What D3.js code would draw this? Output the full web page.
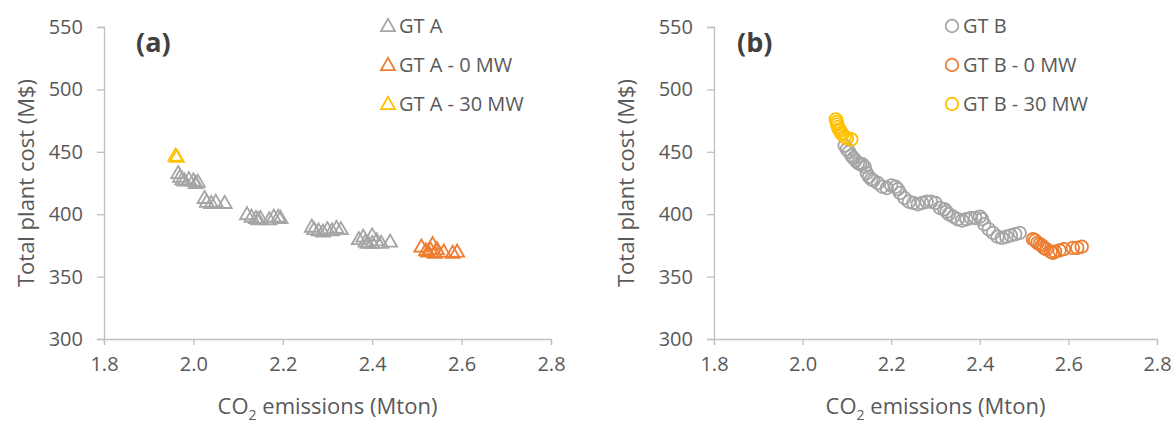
<!DOCTYPE html>
<html lang="en">
<head>
<meta charset="UTF-8">
<script src="https://d3js.org/d3.v7.min.js"></script>
<title>GT cost vs CO2</title>
<style>
    body { margin: 0; background: #fff; }
    svg text { font-family: "Open Sans", "Noto Sans", sans-serif; fill: #595959; }
</style>
</head>
<body>
<svg id="chart" width="1171" height="424"></svg>
<script>
    // panel (a) - GT A
    const xA_grey = [1.966, 1.97, 1.975, 1.98, 1.99, 2.0, 2.01, 2.005, 2.025, 2.03, 2.04, 2.05, 2.07,
        2.12, 2.13, 2.14, 2.145, 2.15, 2.17, 2.18, 2.19, 2.195,
        2.265, 2.27, 2.28, 2.29, 2.30, 2.31, 2.32, 2.33,
        2.37, 2.38, 2.385, 2.39, 2.40, 2.40, 2.41, 2.42, 2.44];
    const yA_grey = [433, 430, 428, 427, 428, 427, 426, 425, 413, 410, 409, 410, 409,
        400, 398, 397, 396, 397, 396, 398, 398, 397,
        390, 388, 387, 386, 388, 387, 389, 388,
        380, 382, 378, 377, 377, 383, 379, 377, 378];
    const xA_0mw = [2.51, 2.52, 2.525, 2.53, 2.535, 2.54, 2.545, 2.56, 2.58, 2.59];
    const yA_0mw = [374, 371, 370, 372, 376, 369, 372, 370, 369, 370];
    const xA_30mw = [1.96, 1.963];
    const yA_30mw = [447, 446];

    // panel (b) - GT B
    const xB_grey = [2.095, 2.10, 2.105, 2.11, 2.115, 2.12, 2.125, 2.13, 2.135, 2.14, 2.145, 2.15, 2.155, 2.16,
        2.17, 2.18, 2.19, 2.20, 2.21, 2.215, 2.22, 2.23, 2.24, 2.25, 2.26, 2.27, 2.28, 2.29, 2.30,
        2.31, 2.32, 2.325, 2.33, 2.34, 2.35, 2.36, 2.37, 2.38, 2.39, 2.40, 2.405, 2.41, 2.42, 2.43,
        2.44, 2.45, 2.46, 2.47, 2.48, 2.49];
    const yB_grey = [455, 452, 450, 447, 445, 443, 441, 440, 440, 438, 433, 430, 428, 427,
        425, 422, 421, 423, 422, 420, 417, 413, 410, 409, 408, 409, 410, 410, 409,
        405, 404, 402, 400, 398, 396, 395, 396, 397, 397, 398, 396, 392, 388, 385,
        382, 381, 382, 383, 384, 385];
    const xB_0mw = [2.52, 2.525, 2.53, 2.535, 2.54, 2.545, 2.55, 2.56, 2.565, 2.57, 2.58, 2.59, 2.61, 2.62, 2.63];
    const yB_0mw = [380, 379, 377, 376, 375, 373, 372, 370, 369, 370, 371, 372, 373, 373, 374];
    const xB_30mw = [2.075, 2.077, 2.078, 2.08, 2.082, 2.085, 2.087, 2.09, 2.095, 2.10, 2.11];
    const yB_30mw = [476, 474, 472, 470, 468, 467, 465, 464, 462, 461, 460];

    const xTicks = [1.8, 2.0, 2.2, 2.4, 2.6, 2.8];
    const yTicks = [300, 350, 400, 450, 500, 550];

    const grey = "#A5A5A5", orange = "#ED7D31", yellow = "#FFC000";

    const svg = d3.select("#chart");

    const panels = [
        {
            left: 104, right: 551, label: "(a)", labelX: 136, titleX: 34,
            legendX: 388, symbol: "triangle",
            series: [
                { name: "GT A", xs: xA_grey, ys: yA_grey, color: grey },
                { name: "GT A - 0 MW", xs: xA_0mw, ys: yA_0mw, color: orange },
                { name: "GT A - 30 MW", xs: xA_30mw, ys: yA_30mw, color: yellow }
            ]
        },
        {
            left: 714, right: 1157, label: "(b)", labelX: 737, titleX: 634,
            legendX: 952, symbol: "circle",
            series: [
                { name: "GT B", xs: xB_grey, ys: yB_grey, color: grey },
                { name: "GT B - 0 MW", xs: xB_0mw, ys: yB_0mw, color: orange },
                { name: "GT B - 30 MW", xs: xB_30mw, ys: yB_30mw, color: yellow }
            ]
        }
    ];

    const plotTop = 27, plotBottom = 339;
    const triangle = d3.symbol().type(d3.symbolTriangle).size(85);

    function drawMarker(g, kind, x, y, color) {
        if (kind === "triangle") {
            g.append("path")
                .attr("d", triangle())
                .attr("transform", `translate(${x},${y + 1})`)
                .attr("fill", "none")
                .attr("stroke", color)
                .attr("stroke-width", 1.8);
        } else {
            g.append("circle")
                .attr("cx", x).attr("cy", y).attr("r", 6.3)
                .attr("fill", "none")
                .attr("stroke", color)
                .attr("stroke-width", 1.8);
        }
    }

    panels.forEach(p => {
        const x = d3.scaleLinear().domain([1.8, 2.8]).range([p.left, p.right]);
        const y = d3.scaleLinear().domain([300, 550]).range([plotBottom, plotTop]);

        const xAxis = svg.append("g")
            .attr("transform", `translate(0,${plotBottom})`)
            .call(d3.axisBottom(x).tickValues(xTicks).tickFormat(d3.format(".1f")).tickSize(6).tickPadding(12));
        const yAxis = svg.append("g")
            .attr("transform", `translate(${p.left},0)`)
            .call(d3.axisLeft(y).tickValues(yTicks).tickSize(7).tickPadding(14));

        [xAxis, yAxis].forEach(a => {
            a.select(".domain").attr("stroke", "#BFBFBF").attr("stroke-width", 1.3);
            a.selectAll(".tick line").attr("stroke", "#BFBFBF").attr("stroke-width", 1.3);
            a.selectAll(".tick text").attr("font-size", 20).attr("fill", "#595959")
                .style("font-family", "'Open Sans', sans-serif");
        });

        // axis titles
        const xt = svg.append("text")
            .attr("x", (p.left + p.right) / 2)
            .attr("y", 414)
            .attr("text-anchor", "middle")
            .attr("font-size", 22);
        xt.append("tspan").text("CO");
        xt.append("tspan").attr("font-size", 14).attr("dy", 6).text("2");
        xt.append("tspan").attr("dy", -6).text(" emissions (Mton)");

        svg.append("text")
            .attr("transform", `translate(${p.titleX},${(plotTop + plotBottom) / 2}) rotate(-90)`)
            .attr("text-anchor", "middle")
            .attr("font-size", 22)
            .text("Total plant cost (M$)");

        svg.append("text")
            .attr("x", p.labelX).attr("y", 52)
            .attr("font-size", 27).attr("font-weight", "bold")
            .style("fill", "#404040")
            .text(p.label);

        // data
        p.series.forEach(s => {
            const g = svg.append("g");
            s.xs.forEach((xv, i) => drawMarker(g, p.symbol, x(xv), y(s.ys[i]), s.color));
        });

        // legend
        p.series.forEach((s, i) => {
            const ly = 26 + i * 39;
            const g = svg.append("g");
            drawMarker(g, p.symbol, p.legendX, ly, s.color);
            svg.append("text")
                .attr("x", p.legendX + 11).attr("y", ly + 7)
                .attr("font-size", 20)
                .text(s.name);
        });
    });
</script>
</body>
</html>
